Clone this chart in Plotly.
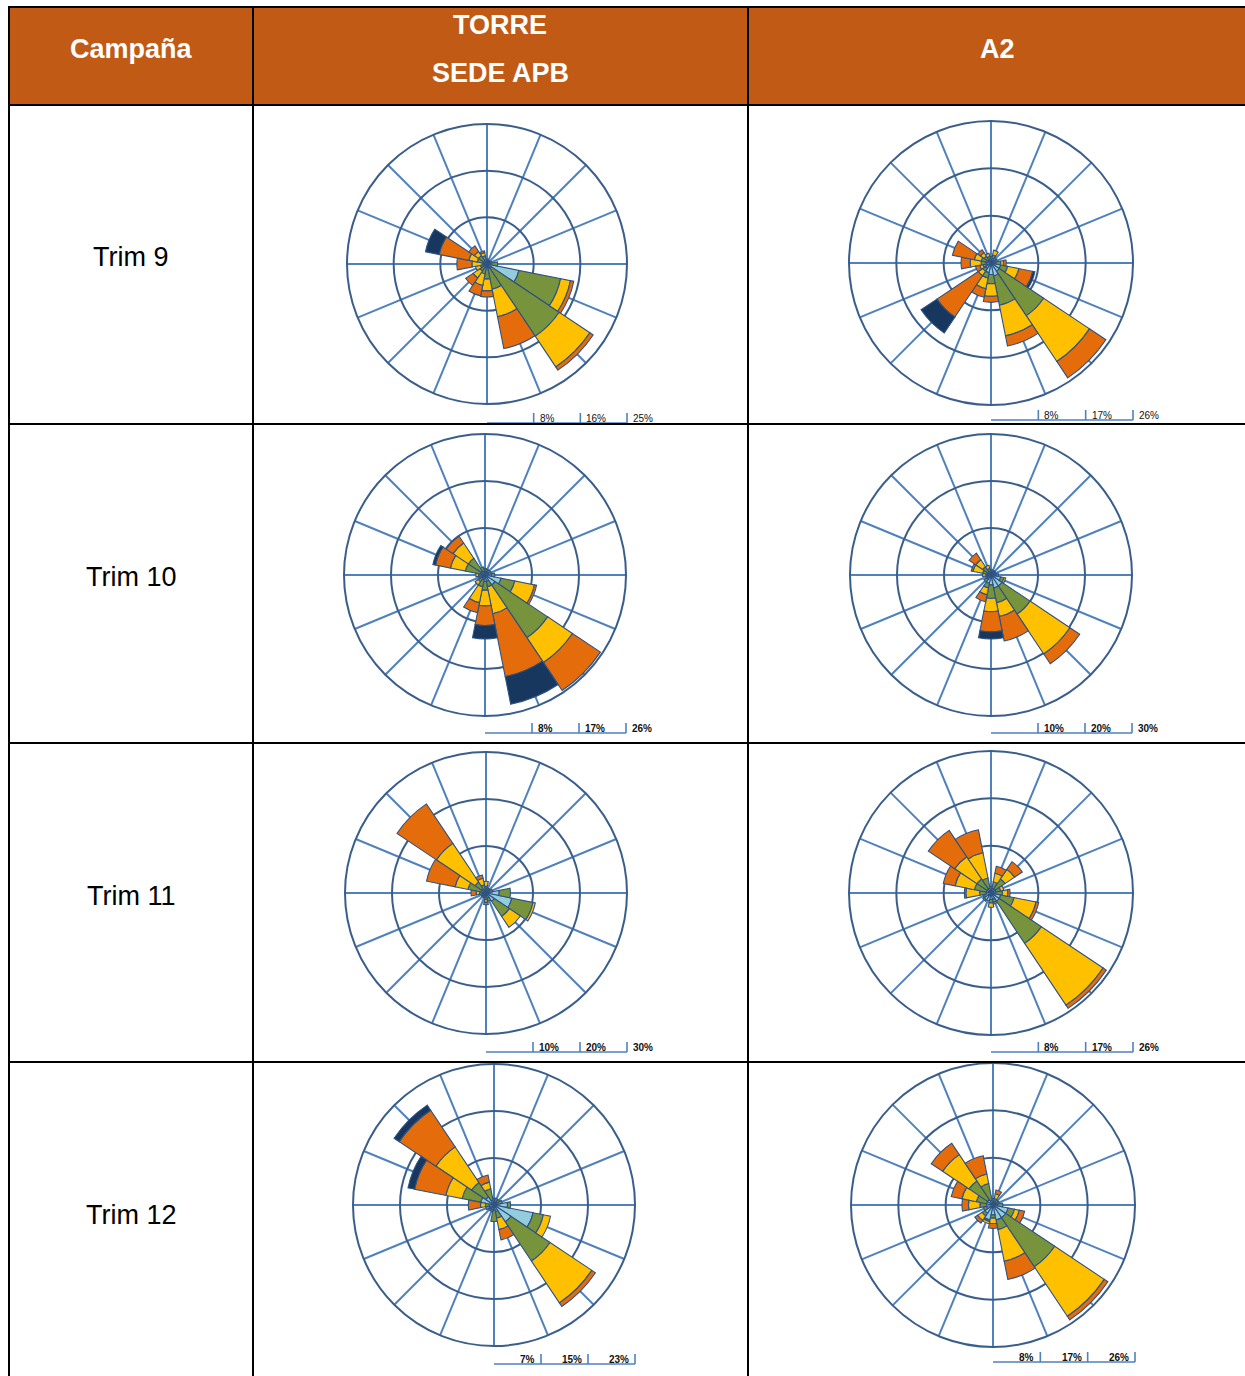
import plotly.graph_objects as go

W, H = 1245, 1376

# ---------------- data ----------------
DIRECTIONS = ["N", "NNE", "NE", "ENE", "E", "ESE", "SE", "SSE",
              "S", "SSW", "SW", "WSW", "W", "WNW", "NW", "NNW"]
DIR_DEG = [0, 22.5, 45, 67.5, 90, 112.5, 135, 157.5,
           180, 202.5, 225, 247.5, 270, 292.5, 315, 337.5]
SPEED_CLASSES = ["0,5-2 m/s", "2-4 m/s", "4-6 m/s", "6-8 m/s", ">8 m/s"]
CLASS_COLORS = ["#93CDDD", "#77933C", "#FFC000", "#E46C0A", "#17375E"]

HEADERS = ["Campaña", "TORRE", "SEDE APB", "A2"]
CAMPAIGNS = ["Trim 9", "Trim 10", "Trim 11", "Trim 12"]

# rows = directions (N..NNW), columns = speed classes, values in %
TORRE_T9 = [
    [0.5, 0.4, 0.0, 0.0, 0.0],
    [0.5, 0.2, 0.0, 0.0, 0.0],
    [0.5, 0.2, 0.0, 0.0, 0.0],
    [0.5, 0.4, 0.0, 0.0, 0.0],
    [0.7, 1.2, 0.0, 0.0, 0.0],
    [5.8, 7.6, 1.8, 0.6, 0.0],
    [0.9, 14.6, 6.6, 0.7, 0.0],
    [0.7, 3.9, 5.0, 5.8, 0.0],
    [0.6, 2.1, 2.1, 1.1, 0.0],
    [0.6, 1.2, 2.1, 1.9, 0.0],
    [0.5, 1.0, 1.5, 1.6, 0.0],
    [0.5, 0.7, 0.9, 0.0, 0.0],
    [0.5, 0.4, 1.8, 2.7, 0.0],
    [0.5, 1.3, 1.5, 5.4, 2.5],
    [0.5, 1.3, 0.9, 1.2, 0.0],
    [0.5, 1.0, 0.6, 0.3, 0.0],
]
A2_T9 = [
    [0.6, 0.6, 0.0, 0.0, 0.0],
    [0.9, 0.6, 0.9, 0.0, 0.0],
    [0.6, 0.6, 0.0, 0.0, 0.0],
    [0.6, 0.6, 0.0, 0.0, 0.0],
    [0.9, 0.9, 0.5, 0.5, 0.0],
    [1.8, 1.3, 2.1, 2.6, 0.4],
    [1.8, 9.8, 10.1, 3.6, 0.0],
    [2.4, 5.5, 5.7, 1.9, 0.0],
    [2.1, 1.7, 2.3, 1.1, 0.0],
    [1.8, 1.0, 2.0, 1.6, 0.0],
    [1.2, 0.6, 1.0, 9.1, 3.5],
    [0.9, 0.6, 0.6, 0.8, 0.0],
    [0.9, 0.9, 2.0, 1.7, 0.0],
    [0.9, 0.9, 1.3, 4.1, 0.0],
    [0.7, 0.8, 0.8, 0.6, 0.0],
    [0.6, 0.6, 0.6, 0.0, 0.0],
]
TORRE_T10 = [
    [0.7, 0.5, 0.0, 0.0, 0.0],
    [0.7, 0.4, 0.0, 0.0, 0.0],
    [0.7, 0.4, 0.0, 0.0, 0.0],
    [0.7, 0.5, 0.0, 0.0, 0.0],
    [1.2, 0.6, 0.0, 0.0, 0.0],
    [3.0, 2.6, 3.7, 0.4, 0.0],
    [2.2, 11.7, 5.5, 6.2, 0.0],
    [1.2, 1.0, 5.1, 11.8, 5.2],
    [1.2, 1.6, 2.9, 3.6, 2.5],
    [0.9, 1.3, 3.0, 1.9, 0.0],
    [0.7, 0.8, 0.7, 0.0, 0.0],
    [0.6, 0.6, 0.0, 0.0, 0.0],
    [0.6, 0.6, 0.5, 0.0, 0.0],
    [0.9, 2.8, 2.8, 2.8, 0.5],
    [0.9, 2.8, 3.4, 1.5, 0.0],
    [0.7, 0.8, 0.0, 0.0, 0.0],
]
A2_T10 = [
    [0.7, 0.4, 0.0, 0.0, 0.0],
    [0.7, 0.4, 0.0, 0.0, 0.0],
    [0.7, 0.4, 0.0, 0.0, 0.0],
    [0.7, 0.4, 0.0, 0.0, 0.0],
    [1.1, 0.5, 0.0, 0.0, 0.0],
    [2.1, 0.7, 0.4, 0.0, 0.0],
    [2.8, 7.2, 10.2, 2.5, 0.0],
    [2.8, 3.2, 3.0, 5.3, 0.0],
    [2.1, 2.9, 2.8, 4.3, 1.5],
    [1.8, 1.0, 1.5, 1.5, 0.0],
    [1.1, 0.7, 0.0, 0.0, 0.0],
    [0.7, 0.4, 0.0, 0.0, 0.0],
    [0.7, 0.4, 0.7, 0.0, 0.0],
    [0.7, 1.1, 2.1, 0.4, 0.0],
    [0.7, 1.4, 1.8, 1.7, 0.0],
    [0.7, 0.7, 0.7, 0.0, 0.0],
]
TORRE_T11 = [
    [0.7, 0.7, 1.1, 0.0, 0.0],
    [0.7, 0.4, 0.0, 0.0, 0.0],
    [0.7, 0.4, 0.0, 0.0, 0.0],
    [0.7, 0.7, 0.0, 0.0, 0.0],
    [2.8, 2.4, 0.0, 0.0, 0.0],
    [5.6, 4.6, 0.5, 0.0, 0.0],
    [2.1, 3.9, 2.8, 0.0, 0.0],
    [1.1, 0.7, 0.0, 0.0, 0.0],
    [0.7, 0.7, 0.6, 0.5, 0.0],
    [0.7, 0.4, 0.0, 0.0, 0.0],
    [0.7, 0.4, 0.0, 0.0, 0.0],
    [0.7, 0.4, 0.0, 0.0, 0.0],
    [0.7, 0.7, 0.7, 1.1, 0.0],
    [1.1, 2.8, 2.8, 6.2, 0.0],
    [1.1, 1.7, 9.9, 10.1, 0.0],
    [0.7, 1.1, 1.4, 0.7, 0.0],
]
A2_T11 = [
    [0.6, 0.6, 0.0, 0.0, 0.0],
    [0.9, 1.2, 1.6, 1.3, 0.0],
    [0.9, 2.2, 2.1, 1.7, 0.0],
    [0.9, 0.9, 0.6, 0.0, 0.0],
    [0.9, 1.2, 1.0, 0.4, 0.0],
    [1.8, 2.5, 4.1, 0.5, 0.0],
    [1.8, 9.3, 13.6, 0.7, 0.0],
    [1.2, 0.6, 0.3, 0.0, 0.0],
    [1.2, 0.6, 0.8, 0.0, 0.0],
    [1.5, 0.0, 0.0, 0.0, 0.0],
    [1.5, 0.3, 0.0, 0.0, 0.0],
    [1.2, 0.3, 0.0, 0.0, 0.0],
    [0.9, 1.2, 2.5, 0.3, 0.0],
    [0.9, 2.2, 3.6, 2.2, 0.0],
    [0.9, 2.2, 4.9, 5.8, 0.0],
    [0.9, 1.9, 4.7, 4.3, 0.0],
]
TORRE_T12 = [
    [0.5, 0.6, 0.0, 0.0, 0.0],
    [0.5, 0.6, 0.0, 0.0, 0.0],
    [0.5, 0.6, 0.0, 0.0, 0.0],
    [0.5, 0.9, 0.0, 0.0, 0.0],
    [2.2, 0.5, 0.0, 0.0, 0.0],
    [6.5, 1.7, 1.2, 0.0, 0.0],
    [3.3, 7.7, 8.2, 0.7, 0.0],
    [1.1, 1.1, 1.9, 1.7, 0.0],
    [0.8, 1.9, 0.0, 0.0, 0.0],
    [0.8, 0.3, 0.0, 0.0, 0.0],
    [0.8, 0.3, 0.0, 0.0, 0.0],
    [0.8, 0.6, 0.0, 0.0, 0.0],
    [0.8, 0.6, 0.8, 2.0, 0.0],
    [2.2, 3.1, 2.7, 5.2, 1.1],
    [1.6, 2.8, 7.0, 7.2, 1.0],
    [0.8, 1.9, 1.1, 1.2, 0.0],
]
A2_T12 = [
    [0.6, 0.6, 0.0, 0.0, 0.0],
    [0.6, 0.6, 0.9, 0.7, 0.0],
    [0.6, 0.6, 0.0, 0.0, 0.0],
    [0.6, 0.6, 0.0, 0.0, 0.0],
    [0.9, 0.9, 0.0, 0.0, 0.0],
    [2.8, 1.2, 0.9, 1.0, 0.0],
    [2.8, 10.8, 10.9, 0.8, 0.0],
    [2.8, 1.8, 5.9, 3.4, 0.0],
    [1.8, 0.6, 1.0, 0.9, 0.0],
    [2.8, 0.3, 0.4, 0.0, 0.0],
    [1.8, 0.6, 1.0, 0.6, 0.0],
    [1.2, 0.6, 0.0, 0.0, 0.0],
    [1.2, 1.2, 2.1, 1.2, 0.0],
    [1.2, 1.9, 2.7, 2.0, 0.0],
    [1.2, 4.1, 5.8, 2.5, 0.0],
    [0.9, 3.1, 1.8, 3.4, 0.0],
]

# radial scale: maximum value and labels of the three rings
SCALE_MAX = [25, 26, 26, 30, 30, 26, 23, 26]
SCALE_LABELS = [
    ["8%", "16%", "25%"],
    ["8%", "17%", "26%"],
    ["8%", "17%", "26%"],
    ["10%", "20%", "30%"],
    ["10%", "20%", "30%"],
    ["8%", "17%", "26%"],
    ["7%", "15%", "23%"],
    ["8%", "17%", "26%"],
]
ROSES = [TORRE_T9, A2_T9, TORRE_T10, A2_T10, TORRE_T11, A2_T11, TORRE_T12, A2_T12]

# ---------------- layout geometry (page px) ----------------
# centre x, centre y, radius, scale-bar y, label side, bold labels
ROSE_GEOM = [
    (487, 264, 140, 423, "right", False),
    (991, 263, 142, 420, "right", False),
    (485, 575, 141, 733, "right", True),
    (991, 575, 141, 733, "right", True),
    (486, 893, 141, 1052, "right", True),
    (991, 893, 142, 1052, "right", True),
    (494, 1205, 141, 1364, "left", True),
    (993, 1205, 142, 1362, "left", True),
]

def px(x):
    return x / W

def py(y):
    return 1 - y / H

fig = go.Figure()
layout_polars = {}
shapes = []
annotations = []

GRID_RADIAL = "#4F81BD"
GRID_CIRCLE = "#3A5E8C"

for i, rows in enumerate(ROSES):
    pid = "polar" if i == 0 else f"polar{i + 1}"
    cx, cy, rr, by, side, bold = ROSE_GEOM[i]
    R = SCALE_MAX[i]
    for k in range(len(SPEED_CLASSES)):
        vals = [row[k] if row[k] > 0 else None for row in rows]
        fig.add_trace(go.Barpolar(
            r=vals, theta=DIR_DEG, width=[22.5] * len(DIR_DEG),
            marker=dict(color=CLASS_COLORS[k],
                        line=dict(color="#2E5283", width=1.1)),
            name=SPEED_CLASSES[k], subplot=pid, showlegend=False,
            hovertext=DIRECTIONS, hoverinfo="text+r",
        ))
    layout_polars[pid] = dict(
        domain=dict(x=[px(cx - rr), px(cx + rr)], y=[py(cy + rr), py(cy - rr)]),
        bgcolor="white",
        barmode="stack",
        bargap=0,
        radialaxis=dict(range=[0, R], tickvals=[R / 3, 2 * R / 3, R],
                        showticklabels=False, ticks="", showline=False,
                        gridcolor=GRID_CIRCLE, gridwidth=2),
        angularaxis=dict(direction="clockwise", rotation=90,
                         tickvals=DIR_DEG, showticklabels=False, ticks="",
                         gridcolor=GRID_RADIAL, gridwidth=1.7,
                         showline=True, linecolor=GRID_CIRCLE, linewidth=2),
    )
    # scale bar below the rose
    shapes.append(dict(type="line", xref="paper", yref="paper",
                       x0=px(cx), x1=px(cx + rr), y0=py(by), y1=py(by),
                       line=dict(color="#4F81BD", width=1.6)))
    lab_font = dict(family="Liberation Sans", size=10, color="#111111")
    for j, lab in enumerate(SCALE_LABELS[i]):
        tx = cx + rr * (j + 1) / 3
        shapes.append(dict(type="line", xref="paper", yref="paper",
                           x0=px(tx), x1=px(tx), y0=py(by), y1=py(by - 10),
                           line=dict(color="#4F81BD", width=1.6)))
        text = f"<b>{lab}</b>" if bold else lab
        if side == "right":
            annotations.append(dict(x=px(tx + 4), y=py(by - 5), xref="paper", yref="paper",
                                    text=text, showarrow=False, xanchor="left", yanchor="middle",
                                    font=lab_font))
        else:
            annotations.append(dict(x=px(tx - 4), y=py(by - 5), xref="paper", yref="paper",
                                    text=text, showarrow=False, xanchor="right", yanchor="middle",
                                    font=lab_font))

# ---------------- table ----------------
HEADER_FILL = "#C05A14"
shapes.insert(0, dict(type="rect", xref="paper", yref="paper", layer="below",
                      x0=px(8), x1=px(1245), y0=py(105), y1=py(7),
                      fillcolor=HEADER_FILL, line=dict(width=0)))
for yy in [7, 105, 424, 743, 1062]:
    shapes.append(dict(type="line", xref="paper", yref="paper",
                       x0=px(8), x1=px(1245), y0=py(yy), y1=py(yy),
                       line=dict(color="black", width=2)))
for xx in [9, 253, 748]:
    shapes.append(dict(type="line", xref="paper", yref="paper",
                       x0=px(xx), x1=px(xx), y0=py(1376), y1=py(7),
                       line=dict(color="black", width=2)))

head_font = dict(family="Liberation Sans", size=27, color="white")
for txt, x, y in [(HEADERS[0], 131, 49), (HEADERS[1], 500, 25),
                  (HEADERS[2], 500, 73), (HEADERS[3], 997, 49)]:
    annotations.append(dict(x=px(x), y=py(y), xref="paper", yref="paper",
                            text=f"<b>{txt}</b>", showarrow=False,
                            xanchor="center", yanchor="middle", font=head_font))

row_font = dict(family="Liberation Sans", size=27, color="black")
for txt, y in zip(CAMPAIGNS, [257, 577, 896, 1215]):
    annotations.append(dict(x=px(131), y=py(y), xref="paper", yref="paper",
                            text=txt, showarrow=False, xanchor="center",
                            yanchor="middle", font=row_font))

fig.update_layout(
    width=W, height=H,
    margin=dict(l=0, r=0, t=0, b=0),
    paper_bgcolor="white",
    plot_bgcolor="white",
    showlegend=False,
    shapes=shapes,
    annotations=annotations,
    **layout_polars,
)

fig.write_html("out.html", config={"displayModeBar": False},
               post_script="document.body.style.margin='0';document.body.style.overflow='hidden';")
